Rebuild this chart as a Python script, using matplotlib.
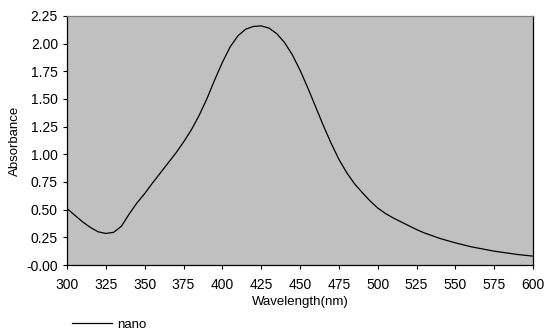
import matplotlib.pyplot as plt
import numpy as np

# --- dados ---
wavelength = [300, 305, 310, 315, 320, 325, 330, 335, 340, 345, 350, 355, 360,
              365, 370, 375, 380, 385, 390, 395, 400, 405, 410, 415, 420, 425,
              430, 435, 440, 445, 450, 455, 460, 465, 470, 475, 480, 485, 490,
              495, 500, 505, 510, 515, 520, 525, 530, 535, 540, 550, 560, 575,
              590, 600]
absorbance = [0.51, 0.45, 0.39, 0.34, 0.30, 0.285, 0.295, 0.35, 0.46, 0.56,
              0.645, 0.74, 0.83, 0.92, 1.01, 1.11, 1.22, 1.35, 1.50, 1.67, 1.83,
              1.97, 2.07, 2.13, 2.155, 2.16, 2.14, 2.09, 2.01, 1.90, 1.76, 1.60,
              1.43, 1.26, 1.10, 0.955, 0.835, 0.735, 0.655, 0.58, 0.515, 0.465,
              0.425, 0.39, 0.355, 0.32, 0.29, 0.265, 0.24, 0.20, 0.165, 0.125,
              0.095, 0.08]

x_ticks = [300, 325, 350, 375, 400, 425, 450, 475, 500, 525, 550, 575, 600]
y_ticks = [0.0, 0.25, 0.5, 0.75, 1.0, 1.25, 1.5, 1.75, 2.0, 2.25]
y_labels = ['-0.00', '0.25', '0.50', '0.75', '1.00', '1.25', '1.50', '1.75', '2.00', '2.25']

plt.rcParams['font.family'] = ['Liberation Sans', 'DejaVu Sans']

fig = plt.figure(figsize=(5.47, 3.33), dpi=100)
ax = fig.add_axes([0.1225, 0.2042, 0.852, 0.748])
ax.set_facecolor('#c0c0c0')

line, = ax.plot(wavelength, absorbance, color='black', linewidth=0.9, label='nano')

ax.set_xlim(300, 600)
ax.set_ylim(0, 2.25)
ax.set_xticks(x_ticks)
ax.set_yticks(y_ticks)
ax.set_yticklabels(y_labels)
ax.tick_params(direction='out', length=3, width=0.8, labelsize=10, colors='black')
ax.tick_params(axis='x', pad=6)

ax.spines['left'].set_color('black')
ax.spines['bottom'].set_color('black')
ax.spines['right'].set_color('black')
ax.spines['top'].set_color('#808080')
for s in ax.spines.values():
    s.set_linewidth(0.9)

ax.set_xlabel('Wavelength(nm)', fontsize=9.5, labelpad=3)
ax.set_ylabel('Absorbance', fontsize=9.5, labelpad=4)

fig.legend(handles=[line], loc='center left', bbox_to_anchor=(0.11, 0.025),
           frameon=False, fontsize=9.5, handlelength=3.0, handletextpad=0.4)

plt.savefig('out.png', dpi=100)
